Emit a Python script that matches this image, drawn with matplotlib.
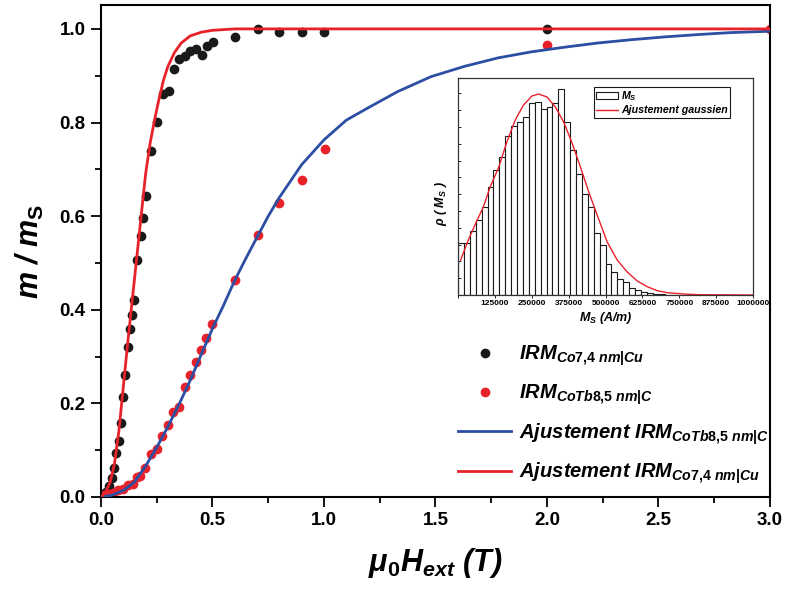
import numpy as np
import matplotlib
matplotlib.use("Agg")
import matplotlib.pyplot as plt
from matplotlib.patches import Patch
from matplotlib.ticker import MultipleLocator, NullFormatter

plt.rcParams['font.family'] = 'Liberation Sans'
plt.rcParams['font.weight'] = 'bold'
plt.rcParams['axes.labelweight'] = 'bold'
plt.rcParams['mathtext.fontset'] = 'custom'
plt.rcParams['mathtext.rm'] = 'Liberation Sans:bold'
plt.rcParams['mathtext.it'] = 'Liberation Sans:bold:italic'
plt.rcParams['mathtext.bf'] = 'Liberation Sans:bold'

# IRM data, Co 7.4 nm | Cu (black dots)
co_x = [0.010, 0.022, 0.036, 0.048, 0.058, 0.067, 0.081, 0.090, 0.099, 0.109,
        0.123, 0.130, 0.141, 0.150, 0.163, 0.178, 0.190, 0.200, 0.225, 0.251,
        0.277, 0.304, 0.328, 0.352, 0.376, 0.400, 0.427, 0.453, 0.477, 0.504,
        0.600, 0.704, 0.800, 0.900, 1.000, 2.000]
co_y = [0.006, 0.011, 0.024, 0.040, 0.061, 0.093, 0.120, 0.159, 0.213, 0.261,
        0.320, 0.359, 0.389, 0.420, 0.506, 0.558, 0.597, 0.642, 0.739, 0.802,
        0.860, 0.868, 0.915, 0.936, 0.943, 0.952, 0.958, 0.945, 0.963, 0.973,
        0.982, 1.000, 0.994, 0.993, 0.994, 1.000]

# IRM data, CoTb 8.5 nm | C (red dots)
cotb_x = [0.013, 0.033, 0.055, 0.078, 0.100, 0.123, 0.145, 0.160, 0.175, 0.199,
          0.225, 0.250, 0.274, 0.300, 0.325, 0.349, 0.376, 0.400, 0.424, 0.449,
          0.473, 0.500, 0.600, 0.704, 0.800, 0.903, 1.003, 2.000, 3.000]
cotb_y = [0.004, 0.006, 0.009, 0.014, 0.016, 0.026, 0.027, 0.043, 0.045, 0.061,
          0.091, 0.102, 0.131, 0.153, 0.181, 0.193, 0.236, 0.261, 0.289, 0.313,
          0.340, 0.369, 0.463, 0.559, 0.629, 0.677, 0.744, 0.966, 1.000]

# fitted curves
fit_co_x = [0.0, 0.02, 0.04, 0.06, 0.08, 0.10, 0.12, 0.14, 0.16, 0.18, 0.20,
            0.22, 0.24, 0.26, 0.28, 0.30, 0.33, 0.36, 0.40, 0.45, 0.50, 0.60,
            0.70, 1.0, 2.0, 3.0]
fit_co_y = [0.0, 0.01, 0.03, 0.07, 0.14, 0.235, 0.33, 0.42, 0.51, 0.60, 0.69,
            0.755, 0.805, 0.85, 0.89, 0.92, 0.95, 0.97, 0.985, 0.993, 0.997, 1.0,
            1.0, 1.0, 1.0, 1.0]

fit_cotb_x = [0.0, 0.05, 0.10, 0.15, 0.20, 0.25, 0.30, 0.35, 0.40, 0.45, 0.50,
              0.55, 0.60, 0.65, 0.70, 0.75, 0.80, 0.90, 1.00, 1.10, 1.20, 1.33,
              1.48, 1.63, 1.78, 1.93, 2.08, 2.23, 2.38, 2.53, 2.68, 2.82, 3.0]
fit_cotb_y = [0.0, 0.004, 0.014, 0.032, 0.066, 0.106, 0.150, 0.198, 0.249, 0.305,
              0.360, 0.410, 0.463, 0.510, 0.555, 0.600, 0.640, 0.710, 0.763, 0.805,
              0.832, 0.866, 0.898, 0.920, 0.938, 0.951, 0.961, 0.970, 0.977, 0.983,
              0.988, 0.992, 0.995]

# inset: Ms distribution (bins of 20000 A/m starting at 0)
ms_bin = 20000
ms_counts = [52, 52, 64, 75, 88, 108, 125, 138, 159, 169, 173, 178, 192, 193,
             186, 188, 192, 206, 173, 145, 121, 101, 88, 62, 50, 31, 23, 16, 13,
             7, 5, 3, 2, 1, 0.7, 0.3, 0.3]

gauss_x = [9000, 35000, 63600, 86000, 108800, 137000, 165600, 193900, 222100,
           250600, 273200, 301700, 330000, 358200, 386700, 415000, 443300,
           471700, 505700, 539700, 573700, 607700, 641800, 675800, 709900,
           766600, 817000, 1000000]
gauss_y = [35, 55, 74, 88, 108, 127, 153, 175, 190, 199, 201, 198, 188, 173,
           152, 128, 103, 80, 53, 35, 23, 14, 8.3, 4.3, 2.3, 1, 0.3, 0]

black = '#1a1a1a'
red = '#e8222b'
blue = '#2c4ea3'

fig = plt.figure(figsize=(7.86, 5.92), dpi=100)
ax = fig.add_axes([0.1285, 0.1605, 0.8511, 0.831])

ax.plot(co_x, co_y, 'o', color=black, ms=7.0, mec='none', zorder=2,
        label=r'IRM$_{\mathit{Co7{,}4\ nm|Cu}}$')
ax.plot(cotb_x, cotb_y, 'o', color=red, ms=7.0, mec='none', zorder=2,
        label=r'IRM$_{\mathit{CoTb8{,}5\ nm|C}}$')
ax.plot(fit_cotb_x, fit_cotb_y, '-', color=blue, lw=2.0, zorder=3,
        label=r'Ajustement IRM$_{\mathit{CoTb8{,}5\ nm|C}}$')
ax.plot(fit_co_x, fit_co_y, '-', color=red, lw=2.0, zorder=3,
        label=r'Ajustement IRM$_{\mathit{Co7{,}4\ nm|Cu}}$')

ax.set_xlim(0, 3.0)
ax.set_ylim(0, 1.051)
ax.xaxis.set_major_locator(MultipleLocator(0.5))
ax.xaxis.set_minor_locator(MultipleLocator(0.25))
ax.yaxis.set_major_locator(MultipleLocator(0.2))
ax.yaxis.set_minor_locator(MultipleLocator(0.1))
ax.tick_params(which='major', direction='out', length=7, width=1.3,
               labelsize=13.5, pad=4)
ax.tick_params(which='minor', direction='out', length=4.3, width=1.3)
for s in ax.spines.values():
    s.set_linewidth(1.5)

ax.set_xlabel('μ$_\\mathit{0}$H$_\\mathit{ext}$ (T)', fontsize=22,
              fontstyle='italic', fontweight='bold', labelpad=12)
ax.set_ylabel('m / m$_\\mathrm{S}$', fontsize=22, fontstyle='italic',
              fontweight='bold', labelpad=10)

leg = ax.legend(loc='upper left', frameon=False, borderpad=0,
                borderaxespad=0, handlelength=2.65, handletextpad=0.4,
                labelspacing=0.7, numpoints=1,
                prop={'size': 14.5, 'weight': 'bold', 'style': 'italic'})
leg.set_bbox_to_anchor((458 / 786, 1 - 344 / 592), transform=fig.transFigure)

# inset histogram
axi = fig.add_axes([458 / 786, 1 - 295 / 592, 295 / 786, 217 / 592])
edges = np.arange(len(ms_counts)) * ms_bin
axi.bar(edges, ms_counts, width=ms_bin, align='edge', facecolor='white',
        edgecolor=black, linewidth=0.8)
axi.plot(gauss_x, gauss_y, '-', color=red, lw=1.0)
axi.set_xlim(0, 1000000)
axi.set_ylim(0, 217)
axi.xaxis.set_major_locator(MultipleLocator(125000))
axi.xaxis.set_major_formatter(plt.FuncFormatter(
    lambda v, p: '' if v == 0 else '%d' % v))
axi.yaxis.set_major_locator(MultipleLocator(16.8))
axi.yaxis.set_major_formatter(NullFormatter())
axi.tick_params(axis='x', direction='out', length=2, width=0.6,
                labelsize=6, pad=1.5)
axi.tick_params(axis='y', direction='in', length=2, width=0.6)
for s in axi.spines.values():
    s.set_linewidth(0.9)
    s.set_color('#333333')
axi.set_xlabel('M$_\\mathit{S}$ (A/m)', fontsize=9, fontstyle='italic',
               fontweight='bold', labelpad=2)
axi.set_ylabel('ρ ( M$_\\mathit{S}$ )', fontsize=9, fontstyle='italic',
               fontweight='bold', labelpad=2)
axi.yaxis.set_label_coords(-0.03, 0.42)

ileg = axi.legend([Patch(facecolor='white', edgecolor=black, linewidth=0.8),
                   plt.Line2D([], [], color=red, lw=1.0)],
                  ['M$_\\mathit{S}$', 'Ajustement gaussien'],
                  loc='upper right', bbox_to_anchor=(735 / 786, 1 - 82 / 592),
                  bbox_transform=fig.transFigure, fancybox=False,
                  edgecolor=black, framealpha=1, borderpad=0.2,
                  handlelength=2.0, handletextpad=0.3, labelspacing=0.2,
                  prop={'size': 7.7, 'weight': 'bold', 'style': 'italic'})
ileg.get_frame().set_linewidth(0.8)

fig.savefig('out.png', dpi=100)
